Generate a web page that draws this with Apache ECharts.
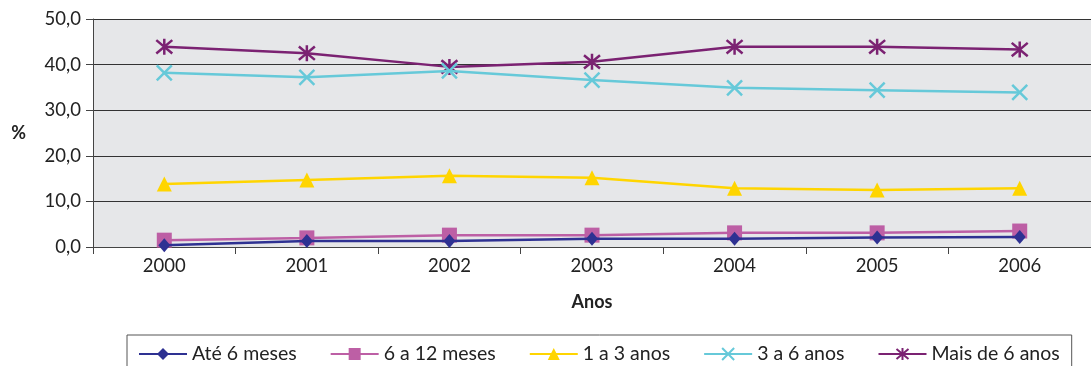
<!DOCTYPE html>
<html><head><meta charset="utf-8">
<script src="https://cdn.jsdelivr.net/npm/echarts@6/dist/echarts.min.js"></script>
<style>html,body{margin:0;padding:0;background:#fff}#c{width:1091px;height:366px}</style>
</head><body><div id="c"></div>
<script>
const categories = ['2000','2001','2002','2003','2004','2005','2006'];
const ate6meses = [0.4, 1.3, 1.3, 1.8, 1.8, 2.1, 2.2];
const m6a12 = [1.5, 2.0, 2.6, 2.6, 3.1, 3.1, 3.5];
const a1a3 = [13.8, 14.7, 15.6, 15.2, 12.9, 12.5, 12.9];
const a3a6 = [38.2, 37.2, 38.6, 36.6, 34.9, 34.4, 33.9];
const mais6 = [43.9, 42.5, 39.5, 40.6, 43.9, 43.9, 43.3];
const seriesNames = ['Até 6 meses','6 a 12 meses','1 a 3 anos','3 a 6 anos','Mais de 6 anos'];
const yTicks = [0,10,20,30,40,50];

const FONT = 'Lato';
const colors = ['#2e3192','#bd5fa5','#ffd500','#66c9d9','#7b2272'];
const symbols = [
  'diamond','rect','triangle',
  'path://M0,0L10,10M10,0L0,10',
  'path://M0,0L10,10M10,0L0,10M5,-1L5,11'
];
const sizes = [[12,14],15,15,15,16];
const dataList = [ate6meses, m6a12, a1a3, a3a6, mais6];

const chart = echarts.init(document.getElementById('c'), null, {renderer:'canvas'});
chart.setOption({
  animation:false,
  textStyle:{fontFamily:FONT},
  grid:{left:93, top:19, right:-15, bottom:119, show:true, backgroundColor:'#e6e7e9', borderWidth:0},
  legend:{
    left:127, top:335, padding:[9,12,9,11], itemGap:33, itemWidth:48, itemHeight:15,
    borderColor:'#555', borderWidth:1,
    textStyle:{fontFamily:FONT, fontSize:19.5, color:'#222'},
    data:seriesNames
  },
  xAxis:{
    type:'category', data:categories, boundaryGap:true,
    name:'Anos', nameLocation:'middle', nameGap:46,
    nameTextStyle:{fontFamily:FONT, fontWeight:'bold', fontSize:18, color:'#222'},
    axisLine:{lineStyle:{color:'#444', width:1}},
    axisTick:{show:true, length:7, lineStyle:{color:'#444'}},
    axisLabel:{fontFamily:FONT, fontSize:18.5, color:'#222', margin:10}
  },
  yAxis:{
    type:'value', min:0, max:50, interval:10,
    name:'%', nameLocation:'middle', nameRotate:0, nameGap:67,
    nameTextStyle:{fontFamily:FONT, fontSize:18, color:'#222', fontWeight:'bold'},
    axisLine:{show:true, lineStyle:{color:'#444', width:1}},
    axisTick:{show:true, length:7, lineStyle:{color:'#444'}},
    axisLabel:{fontFamily:FONT, fontSize:18.5, color:'#222', margin:12,
      formatter:v=>v.toFixed(1).replace('.',',')},
    splitLine:{show:true, lineStyle:{color:'#333', width:1}}
  },
  series: seriesNames.map((n,i)=>({
    name:n, type:'line', data:dataList[i],
    symbol:symbols[i], symbolSize:sizes[i], showAllSymbol:true,
    lineStyle:{color:colors[i], width:2.5},
    itemStyle:{color:colors[i], borderColor:colors[i], borderWidth:(i>=3?2.5:0)},
    z: 5-i
  }))
});
</script></body></html>
